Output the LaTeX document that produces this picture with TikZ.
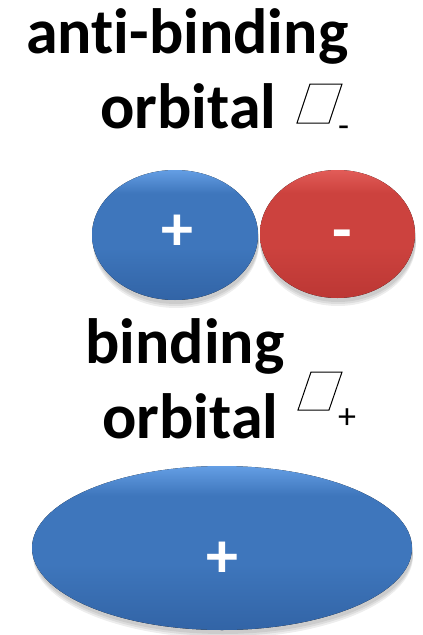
\documentclass[tikz,border=0pt]{standalone}
\usepackage{fontspec}
\setmainfont[Ligatures=NoCommon]{Carlito}
\definecolor{orbblue}{RGB}{62,118,188}
\definecolor{orbbluetop}{RGB}{100,158,228}
\definecolor{orbbluebot}{RGB}{50,100,166}
\definecolor{orbred}{RGB}{204,66,62}
\definecolor{orbredtop}{RGB}{226,92,88}
\definecolor{orbredbot}{RGB}{188,55,52}
% lighter rim on top, darker towards the bottom
\pgfdeclareverticalshading{bluelobe}{100bp}{color(0bp)=(orbbluebot); color(25bp)=(orbbluebot);
  color(45bp)=(orbblue); color(66bp)=(orbblue); color(75bp)=(orbbluetop); color(100bp)=(orbbluetop)}
\pgfdeclareverticalshading{redlobe}{100bp}{color(0bp)=(orbredbot); color(25bp)=(orbredbot);
  color(45bp)=(orbred); color(66bp)=(orbred); color(75bp)=(orbredtop); color(100bp)=(orbredtop)}
\begin{document}
\begin{tikzpicture}[x=1pt,y=-1pt,
  word/.style={font=\fontsize{64}{64}\selectfont\bfseries,anchor=base west,inner sep=0pt},
  sign/.style={font=\fontsize{64}{64}\selectfont\bfseries,text=white,anchor=base,inner sep=0pt},
  index/.style={font=\fontsize{36}{36}\selectfont,anchor=base west,inner sep=0pt},
  glyph/.style={line width=1pt,line join=miter},
  blueorb/.style={shading=bluelobe},
  redorb/.style={shading=redlobe},
  shade/.style={fill=black,opacity=0.07}]
\useasboundingbox (0,0) rectangle (423,635);
%\draw[help lines] (0,0) grid[step=50pt] (423,635);

% antibonding: psi_-
\node[word] (anti) at (26,53) {anti-binding};
\node[word] (orb1) at (100,128) {orbital};
\draw[glyph] (310,84)--(342,84)--(329,123)--(297,123)--cycle;
\node[index] (minus) at (338,137) {-};

% two lobes, opposite sign
\foreach \d in {2,4,6} {
  \fill[shade] (176,237+\d) ellipse [x radius=83pt,y radius=65pt];
  \fill[shade] (338,236+\d) ellipse [x radius=78pt,y radius=64pt];
}
\fill[redorb] (337.5,234) ellipse [x radius=77.5pt,y radius=64pt];
\fill[blueorb] (175,235) ellipse [x radius=83pt,y radius=65pt];
\node[sign] (plusA) at (177,250) {+};
\node[sign] (minusB) at (342,251) {-};

% bonding: psi_+
\node[word] (bind) at (85,363) {binding};
\node[word] (orb2) at (102,438) {orbital};
\draw[glyph] (311,372)--(342,372)--(329,410)--(298,410)--cycle;
\node[index] (plus) at (338,428) {+};

% one big lobe
\foreach \d in {2,4,6}
  \fill[shade] (223,550+\d) ellipse [x radius=190pt,y radius=82pt];
\fill[blueorb] (222,548) ellipse [x radius=190pt,y radius=82pt];
\node[sign] (plusC) at (222,577) {+};
\end{tikzpicture}
\end{document}
